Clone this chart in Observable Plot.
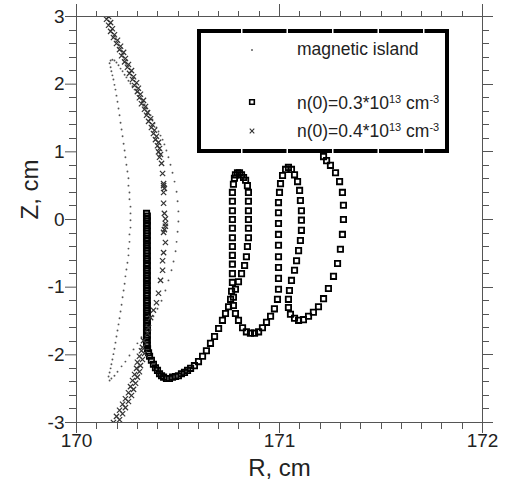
<!DOCTYPE html>
<html><head><meta charset="utf-8">
<script src="https://cdn.jsdelivr.net/npm/d3@7"></script>
<script src="https://cdn.jsdelivr.net/npm/@observablehq/plot@0.6"></script>
<style>body{margin:0;background:#fff}#chart{width:506px;height:498px}</style>
</head><body><div id="chart"></div>
<script>
// ---- tick values ----
const xMajor = [170, 171, 172];
const xMinor = [170.1,170.2,170.3,170.4,170.5,170.6,170.7,170.8,170.9,171.1,171.2,171.3,171.4,171.5,171.6,171.7,171.8,171.9];
const yMajor = [-3, -2, -1, 0, 1, 2, 3];
const yMinor = [-2.8,-2.6,-2.4,-2.2,-1.8,-1.6,-1.4,-1.2,-0.8,-0.6,-0.4,-0.2,0.2,0.4,0.6,0.8,1.2,1.4,1.6,1.8,2.2,2.4,2.6,2.8];

// ---- magnetic island (R, Z) ----
const islandOuter = [[170.163,2.31],[170.168,2.25],[170.172,2.19],[170.177,2.13],[170.182,2.07],[170.187,1.99],[170.192,1.92],[170.197,1.83],[170.202,1.74],[170.207,1.64],[170.212,1.54],[170.217,1.43],[170.222,1.33],[170.227,1.23],[170.232,1.12],[170.237,1.02],[170.241,0.92],[170.246,0.81],[170.251,0.71],[170.256,0.61],[170.256,0.50],[170.261,0.40],[170.261,0.30],[170.266,0.19],[170.266,0.09],[170.266,-0.01],[170.266,-0.12],[170.261,-0.22],[170.261,-0.33],[170.256,-0.43],[170.256,-0.53],[170.251,-0.64],[170.246,-0.74],[170.241,-0.84],[170.237,-0.95],[170.232,-1.05],[170.227,-1.15],[170.222,-1.26],[170.217,-1.36],[170.212,-1.46],[170.207,-1.55],[170.202,-1.64],[170.197,-1.73],[170.192,-1.82],[170.187,-1.91],[170.182,-1.99],[170.177,-2.07],[170.172,-2.14],[170.168,-2.20],[170.163,-2.26],[170.158,-2.32]];
const islandInner = [[170.168,2.35],[170.177,2.36],[170.187,2.35],[170.197,2.32],[170.207,2.28],[170.217,2.23],[170.227,2.19],[170.237,2.14],[170.246,2.10],[170.256,2.05],[170.266,2.01],[170.276,1.97],[170.286,1.92],[170.296,1.88],[170.305,1.83],[170.315,1.79],[170.325,1.74],[170.335,1.70],[170.345,1.64],[170.355,1.60],[170.365,1.54],[170.374,1.48],[170.384,1.42],[170.394,1.36],[170.404,1.30],[170.414,1.24],[170.424,1.18],[170.433,1.11],[170.443,1.02],[170.453,0.92],[170.463,0.81],[170.473,0.69],[170.483,0.56],[170.493,0.41],[170.498,0.27],[170.502,0.12],[170.502,-0.03],[170.498,-0.18],[170.493,-0.33],[170.488,-0.47],[170.478,-0.62],[170.468,-0.75],[170.453,-0.90],[170.438,-1.05],[170.419,-1.20],[170.399,-1.32],[170.379,-1.43],[170.360,-1.54],[170.340,-1.64],[170.320,-1.74],[170.300,-1.83],[170.281,-1.92],[170.261,-2.01],[170.241,-2.10],[170.222,-2.17],[170.202,-2.25],[170.187,-2.31],[170.172,-2.35],[170.163,-2.38]];

// ---- n(0)=0.3e13 cm^-3 (squares) ----
const sqBar = [[170.345,0.09],[170.349,0.05],[170.345,0.02],[170.349,-0.02],[170.345,-0.06],[170.349,-0.09],[170.345,-0.13],[170.349,-0.17],[170.345,-0.20],[170.349,-0.24],[170.345,-0.28],[170.349,-0.31],[170.345,-0.35],[170.349,-0.39],[170.345,-0.42],[170.349,-0.46],[170.345,-0.50],[170.349,-0.54],[170.345,-0.57],[170.349,-0.61],[170.345,-0.65],[170.349,-0.68],[170.345,-0.72],[170.349,-0.76],[170.345,-0.79],[170.349,-0.83],[170.345,-0.87],[170.349,-0.90],[170.345,-0.94],[170.349,-0.98],[170.345,-1.01],[170.349,-1.05],[170.345,-1.09],[170.349,-1.12],[170.345,-1.16],[170.349,-1.20],[170.345,-1.23],[170.349,-1.27],[170.345,-1.31],[170.349,-1.34],[170.345,-1.38],[170.349,-1.42],[170.345,-1.45],[170.349,-1.49],[170.345,-1.53],[170.349,-1.56],[170.345,-1.60],[170.349,-1.64],[170.345,-1.67],[170.349,-1.71],[170.345,-1.75],[170.349,-1.78],[170.345,-1.82],[170.349,-1.86]];
const sqPath = [[170.350,-1.91],[170.355,-1.97],[170.360,-2.02],[170.369,-2.08],[170.379,-2.14],[170.389,-2.19],[170.399,-2.23],[170.409,-2.28],[170.419,-2.31],[170.429,-2.33],[170.443,-2.35],[170.458,-2.35],[170.473,-2.33],[170.488,-2.32],[170.502,-2.31],[170.517,-2.28],[170.532,-2.26],[170.547,-2.23],[170.562,-2.20],[170.581,-2.16],[170.601,-2.10],[170.621,-2.02],[170.640,-1.94],[170.660,-1.83],[170.680,-1.73],[170.700,-1.61],[170.719,-1.49],[170.734,-1.39],[170.749,-1.29],[170.759,-1.18],[170.764,-1.06],[170.768,-0.93],
[170.768,-0.80],[170.768,-0.66],[170.768,-0.53],[170.768,-0.40],[170.768,-0.27],[170.768,-0.13],[170.768,0.00],[170.768,0.13],[170.768,0.27],[170.768,0.40],[170.773,0.52],[170.778,0.61],[170.783,0.66],[170.793,0.69],[170.803,0.69],[170.813,0.66],[170.823,0.62],[170.833,0.58],[170.842,0.50],[170.847,0.40],[170.847,0.27],[170.847,0.13],[170.847,0.00],[170.847,-0.13],[170.847,-0.27],[170.842,-0.40],[170.837,-0.55],[170.828,-0.68],[170.813,-0.80],[170.798,-0.92],[170.783,-1.03],[170.773,-1.15],[170.773,-1.27],[170.783,-1.39],[170.798,-1.49],[170.818,-1.60],[170.837,-1.66],[170.857,-1.68],[170.877,-1.68],[170.897,-1.66],[170.916,-1.60],[170.936,-1.52],[170.956,-1.43],[170.975,-1.32],[170.990,-1.18],[170.995,-1.03],
[170.995,-0.87],[170.995,-0.71],[170.995,-0.55],[170.995,-0.38],[170.995,-0.22],[170.995,-0.06],[170.995,0.10],[170.995,0.25],[171.000,0.40],[171.005,0.53],[171.015,0.65],[171.030,0.74],[171.044,0.77],[171.059,0.74],[171.074,0.66],[171.089,0.56],[171.099,0.43],[171.103,0.28],[171.108,0.13],[171.108,-0.01],[171.108,-0.16],[171.103,-0.31],[171.094,-0.46],[171.084,-0.61],[171.074,-0.75],[171.059,-0.90],[171.049,-1.05],[171.044,-1.18],[171.044,-1.30],[171.054,-1.40],[171.074,-1.46],[171.094,-1.49],[171.118,-1.48],[171.143,-1.43],[171.167,-1.37],[171.192,-1.29],[171.217,-1.17],[171.241,-1.02],[171.266,-0.84],[171.286,-0.65],[171.300,-0.44],[171.310,-0.22],[171.315,0.00],[171.315,0.21],[171.310,0.40],[171.296,0.56],[171.276,0.69],[171.251,0.80],[171.232,0.87],[171.217,0.93]];

// ---- n(0)=0.4e13 cm^-3 (crosses) ----
const crTop = [[170.138,3.04],[170.158,3.00],[170.148,2.96],[170.168,2.91],[170.158,2.87],[170.177,2.82],[170.168,2.78],[170.187,2.73],[170.182,2.69],[170.202,2.65],[170.197,2.60],[170.217,2.56],[170.212,2.51],[170.232,2.47],[170.222,2.42],[170.241,2.38],[170.237,2.33],[170.256,2.29],[170.251,2.25],[170.271,2.20],[170.261,2.16],[170.281,2.11],[170.276,2.07],[170.296,2.02],[170.286,1.98],[170.305,1.94],[170.300,1.89],[170.315,1.85],[170.310,1.80],[170.330,1.76],[170.320,1.71],[170.340,1.67],[170.335,1.63],[170.350,1.58],[170.345,1.54],[170.365,1.49],[170.355,1.45],[170.374,1.40],[170.369,1.36],[170.384,1.32],[170.379,1.27],[170.394,1.23],[170.389,1.18],[170.404,1.14],[170.399,1.09],[170.409,1.05],[170.404,1.00],[170.414,0.96],[170.409,0.92]];
const crMid = [[170.419,0.83],[170.424,0.68],[170.429,0.53],[170.429,0.50],[170.433,0.46],[170.429,0.40],[170.429,0.24],[170.433,0.09],[170.438,0.01],[170.438,-0.06],[170.438,-0.10],[170.433,-0.15],[170.429,-0.19],[170.438,-0.34],[170.429,-0.49],[170.424,-0.61],[170.424,-0.75],[170.414,-0.90],[170.404,-1.09],[170.394,-1.23],[170.379,-1.34],[170.365,-1.45],[170.355,-1.60],[170.350,-1.68],[170.330,-1.79],[170.325,-1.89]];
const crBottom = [[170.320,-1.94],[170.335,-1.98],[170.310,-2.02],[170.325,-2.07],[170.300,-2.11],[170.315,-2.16],[170.296,-2.20],[170.310,-2.25],[170.286,-2.29],[170.300,-2.33],[170.276,-2.38],[170.291,-2.42],[170.266,-2.47],[170.281,-2.51],[170.256,-2.56],[170.271,-2.60],[170.241,-2.65],[170.256,-2.69],[170.227,-2.73],[170.241,-2.78],[170.212,-2.82],[170.227,-2.87],[170.197,-2.91],[170.212,-2.96],[170.182,-3.00],[170.197,-3.04]];

// ---- legend / labels ----
const legendLabels = ["magnetic island", "n(0)=0.3*10", "n(0)=0.4*10"];
const xTitle = "R, cm", yTitle = "Z, cm";

const island = islandOuter.concat(islandInner);
const squares = sqBar.concat(sqPath);
const crosses = crTop.concat(crMid, crBottom);

const FONT = "'Liberation Sans', Arial, sans-serif";
const AX = "#555";
const SQ_R = 3.0, SQ_W = 1.8, CR_R = 2.5, CR_W = 1.2, DOT_R = 0.95;

const chart = Plot.plot({
  width: 506, height: 498,
  marginLeft: 76, marginRight: 24, marginTop: 16, marginBottom: 76,
  style: {fontFamily: FONT, background: "white", color: "#222", fontSize: "19px"},
  x: {domain: [170, 172], ticks: xMajor, tickSize: 11, tickPadding: 0, tickFormat: d => String(d), label: null},
  y: {domain: [-3, 3], ticks: yMajor, tickSize: 11, tickPadding: 1, tickFormat: d => String(d), label: null},
  marks: [
    Plot.dot(island, {x: d => d[0], y: d => d[1], r: DOT_R, fill: "#555", stroke: null, clip: true}),
    Plot.dot(squares, {x: d => d[0], y: d => d[1], symbol: "square", r: SQ_R, stroke: "black", strokeWidth: SQ_W, fill: "none", clip: true}),
    Plot.dot(crosses, {x: d => d[0], y: d => d[1], symbol: "times", r: CR_R, stroke: "#333", strokeWidth: CR_W, clip: true}),
    Plot.frame({stroke: AX, strokeWidth: 1}),
    Plot.text([xTitle], {frameAnchor: "bottom", dy: 53, fontSize: 24, fill: "#222"}),
    Plot.text([yTitle], {frameAnchor: "left", dx: -46, rotate: -90, fontSize: 24, fill: "#222"})
  ]
});

const svg = d3.select(chart);
const sx = chart.scale("x"), sy = chart.scale("y");
const X0 = 76, X1 = 482, Y0 = 16, Y1 = 422;
svg.selectAll("g[aria-label='x-axis'] line, g[aria-label='y-axis'] line, g[aria-label='x-axis tick'] path, g[aria-label='y-axis tick'] path").attr("stroke", AX);

// minor ticks + top/right ticks through the scales
const tk = svg.append("g").attr("stroke", AX).attr("stroke-width", 1);
function vt(vals, y, len) { vals.forEach(v => { const x = Math.round(sx.apply(v)) + 0.5; tk.append("line").attr("x1", x).attr("x2", x).attr("y1", y).attr("y2", y + len); }); }
function ht(vals, x, len) { vals.forEach(v => { const y = Math.round(sy.apply(v)) + 0.5; tk.append("line").attr("y1", y).attr("y2", y).attr("x1", x).attr("x2", x + len); }); }
vt(xMinor, Y1, 7);
vt(xMinor, Y0, -5);
vt(xMajor, Y0, -12);
ht(yMinor, X0, -7);
ht(yMinor, X1, 7);
ht(yMajor, X1, 11);

// legend box (opaque, drawn over data)
const lg = svg.append("g").attr("text-anchor", "start");
const L = {x0: 199, y0: 31, x1: 447, y1: 151};
lg.append("rect").attr("x", L.x0).attr("y", L.y0).attr("width", L.x1 - L.x0).attr("height", L.y1 - L.y0).attr("fill", "white");
lg.append("line").attr("x1", L.x0 - 2).attr("x2", L.x1 + 2).attr("y1", L.y0).attr("y2", L.y0).attr("stroke", "black").attr("stroke-width", 4).attr("stroke-dasharray", "44 1.5");
lg.append("line").attr("x1", L.x0 - 2).attr("x2", L.x1 + 2).attr("y1", L.y1).attr("y2", L.y1).attr("stroke", "black").attr("stroke-width", 4).attr("stroke-dasharray", "44 1.5");
lg.append("line").attr("x1", L.x0).attr("x2", L.x0).attr("y1", L.y0).attr("y2", L.y1).attr("stroke", "black").attr("stroke-width", 4);
lg.append("line").attr("x1", L.x1).attr("x2", L.x1).attr("y1", L.y0).attr("y2", L.y1).attr("stroke", "black").attr("stroke-width", 4);

const symX = 252, txtX = 297;
lg.append("circle").attr("cx", symX).attr("cy", 50).attr("r", DOT_R).attr("fill", "#555");
lg.append("path").attr("transform", `translate(${symX},102)`).attr("d", d3.symbol(d3.symbolSquare, Math.PI * 2.6 * 2.6)()).attr("fill", "none").attr("stroke", "black").attr("stroke-width", 1.6);
lg.append("path").attr("transform", `translate(${symX},131)`).attr("d", d3.symbol(d3.symbolTimes, Math.PI * 2.2 * 2.2)()).attr("fill", "none").attr("stroke", "#333").attr("stroke-width", 1.1);

const fs = 17.5;
lg.append("text").attr("x", txtX).attr("y", 55).attr("text-anchor", "start").attr("font-family", FONT).attr("font-size", fs).attr("fill", "#222").text(legendLabels[0]);
function supLabel(y, base) {
  const t = lg.append("text").attr("x", txtX).attr("y", y).attr("text-anchor", "start").attr("font-family", FONT).attr("font-size", fs).attr("fill", "#222");
  t.append("tspan").text(base);
  t.append("tspan").attr("dy", -6).attr("font-size", 11).text("13");
  t.append("tspan").attr("dy", 6).text(" cm");
  t.append("tspan").attr("dy", -6).attr("font-size", 11).text("-3");
}
supLabel(109, legendLabels[1]);
supLabel(137, legendLabels[2]);

document.getElementById("chart").appendChild(chart);
</script>
</body></html>
